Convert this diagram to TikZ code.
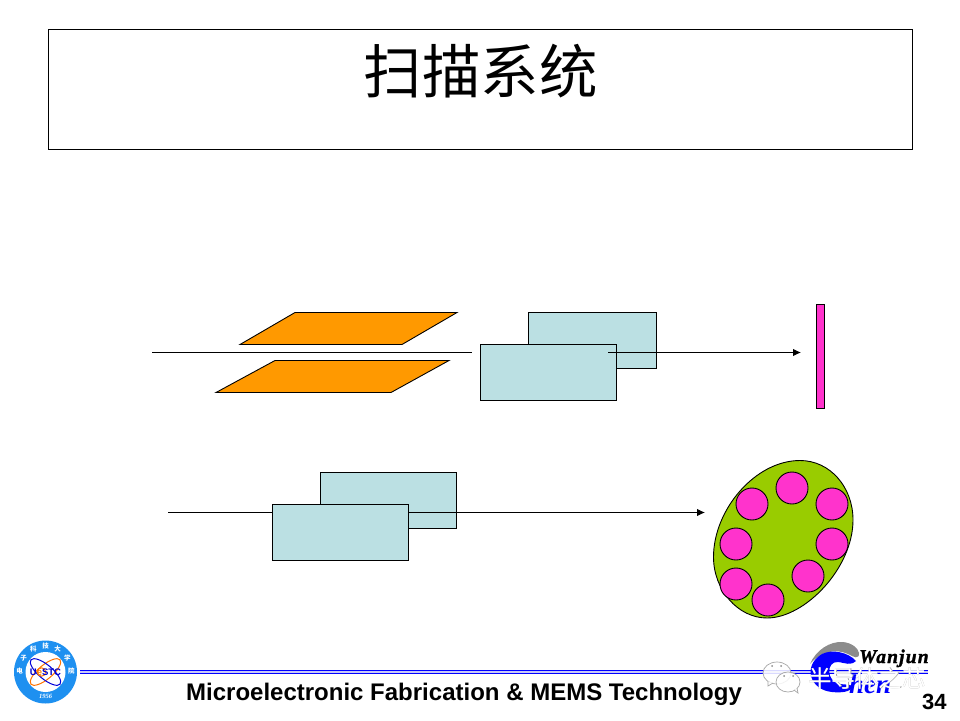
\documentclass[tikz,border=0pt]{standalone}
\usepackage{fontspec}
\setmainfont{Liberation Sans}
\newfontfamily\cjk{Noto Sans CJK SC}
\newfontfamily\wjfont{Liberation Serif}
\newfontfamily\wjspaced[LetterSpace=6,BoldItalicFeatures={FakeBold=1.5}]{Liberation Serif}
\usetikzlibrary{arrows.meta,shapes.geometric}
\definecolor{boxcyan}{HTML}{BBE0E3}
\definecolor{plateorange}{HTML}{FF9900}
\definecolor{waferpink}{HTML}{FF33CC}
\definecolor{wafergreen}{HTML}{99CC00}
\definecolor{logoblue}{HTML}{1E90F0}
\definecolor{rulelav}{HTML}{C8C8F8}
\definecolor{swoosh}{HTML}{8C8C8C}
\tikzset{
  plate/.style={draw=black,fill=plateorange,line width=.9pt,line join=miter},
  scanbox/.style={draw=black,fill=boxcyan,line width=.9pt,rectangle,inner sep=0pt,outer sep=0pt,minimum width=136pt,minimum height=56pt,anchor=north west},
  beam/.style={draw=black,line width=.9pt},
  beamarrow/.style={beam,-{Latex[length=8pt,width=7.5pt]}},
  die/.style={circle,draw=black,fill=waferpink,line width=.9pt,minimum size=32pt,inner sep=0pt,outer sep=0pt},
  ringchar/.style={text=white,font=\cjk\fontsize{6.5}{6.5}\selectfont\bfseries,inner sep=0pt},
  bubble/.style={draw=black!35,fill=white,fill opacity=.85,line width=.7pt},
}
\begin{document}
\begin{tikzpicture}[x=1pt,y=-1pt]
\useasboundingbox (0,0) rectangle (960,720);
\fill[white] (0,0) rectangle (960,720);
% title
\draw[black,line width=.9pt] (48.5,29.5) rectangle (912.5,149.5);
\node (title) at (480.5,71) [inner sep=0pt] {\cjk\fontsize{58.5}{58.5}\selectfont 扫描系统};
% deflection plates
\draw[plate] (240,344.5) -- (295,312.5) -- (457,312.5) -- (402,344.5) -- cycle;
\draw[plate] (216,392.5) -- (275,360.5) -- (449,360.5) -- (391,392.5) -- cycle;
\coordinate (b1s) at (152,352.5);
\coordinate (b1e) at (472,352.5);
\draw[beam] (b1s) -- (b1e);
% upper scan boxes
\node[scanbox,minimum width=128pt] (ub) at (528.5,312.5) {};
\node[scanbox] (uf) at (480.5,344.5) {};
\coordinate (b2s) at (608,352.5);
\coordinate (b2e) at (801,352.5);
\draw[beamarrow] (b2s) -- (b2e);
% target bar
\draw[draw=black,fill=waferpink,line width=.9pt] (816.5,304.5) rectangle (824.5,408.5);
% lower scan boxes
\node[scanbox] (lb) at (320.5,472.5) {};
\coordinate (b3s) at (168,512.5);
\coordinate (b3e) at (705,512.5);
\draw[beamarrow] (b3s) -- (b3e);
\node[scanbox] (lf) at (272.5,504.5) {};
% wafer
\draw[draw=black,fill=wafergreen,line width=.9pt] (800,460.5)
  .. controls (830,460.5) and (853,487) .. (853,520)
  .. controls (853,568) and (805,618) .. (767,618)
  .. controls (738,618) and (713.5,590) .. (713.5,557)
  .. controls (713.5,510) and (755,460.5) .. (800,460.5) -- cycle;
\foreach \n/\x/\y in {a/792/488,b/752/504,c/832/504,d/736/544,e/832/544,f/808/576,g/736/584,h/768/600}
  \node[die] (d\n) at (\x,\y) {};
% footer rule
\fill[rulelav] (80,670) rectangle (928,674);
\fill[blue] (80,669.6) rectangle (928,670.8);
\fill[blue] (80,673) rectangle (928,674.2);
% UESTC logo
\node[circle,fill=logoblue,minimum size=63pt,inner sep=0pt] (logo) at (45.5,672) {};
\node[circle,fill=white,minimum size=40pt,inner sep=0pt] (logoin) at (45.5,672) {};
\draw[orange!90!red,line width=1pt,rotate around={40:(45.5,672)}] (45.5,672) ellipse (19 and 7);
\draw[blue!85!black,line width=1pt,rotate around={-40:(45.5,672)}] (45.5,672) ellipse (19 and 7);
\draw[orange!90!red,line width=1pt] (41.5,672) circle (4.2);
\node[inner sep=0pt,text=blue!80!black,font=\bfseries\fontsize{9.5}{9.5}\selectfont] (uestc) at (45.5,672) {U{\color{orange}e}STC};
\foreach \a/\c in {178/电,147/子,118/科,90/技,62/大,33/学,2/院}
  \node[ringchar] at ({45.5+26*cos(\a)},{672-26*sin(\a)}) {\c};
\node[text=white,font=\wjfont\itshape\bfseries\fontsize{6.5}{6.5}\selectfont,inner sep=0pt] (yr) at (45.5,696) {1956};
% footer text
\node[anchor=base west,inner sep=0pt,font=\bfseries\fontsize{24}{24}\selectfont] (ftext) at (186,700) {Microelectronic Fabrication \& MEMS Technology};
\node[anchor=base west,inner sep=0pt,font=\bfseries\fontsize{22}{22}\selectfont] (pg) at (922,709) {34};
% Chen logo
\fill[swoosh] (810,664) .. controls (816,650) and (830,641) .. (843,642)
   .. controls (852,643) and (858,648) .. (859,653) .. controls (859,660) and (854,657) .. (848,654)
   .. controls (835,648) and (820,652) .. (810,664) -- cycle;
\fill[blue] (822,654) .. controls (832,649) and (848,652) .. (856,661)
   .. controls (850,666) and (846,663) .. (838,662) .. controls (826,661) and (826,682) .. (840,684)
   .. controls (848,685) and (850,684) .. (853,686) .. controls (851,692) and (842,693) .. (832,692)
   .. controls (810,690) and (802,666) .. (822,654) -- cycle;
\node[anchor=base west,inner sep=0pt,text=blue,font=\wjfont\itshape\bfseries\fontsize{27}{27}\selectfont] (hen) at (849,693.5) {hen};
\node[anchor=base west,inner sep=0pt,text=black,font=\wjspaced\itshape\bfseries\fontsize{19.5}{19.5}\selectfont] (wj) at (859,663) {Wanjun};
% watermark
\draw[bubble] (777,673) ellipse (14 and 11);
\draw[bubble] (768,681) -- (768,686) -- (773,683);
\draw[bubble] (788,682) ellipse (12 and 10);
\draw[bubble] (794,690) -- (798,693) -- (797,688);
\fill[black!45] (772,666) circle (1) (781,666) circle (1) (784,676) circle (1) (793,676) circle (1);
\node[anchor=west,inner sep=0pt,text=black!35,font=\cjk\fontsize{23.5}{23.5}\selectfont] (wms) at (808.5,678.5) {半导体之芯};
\node[anchor=west,inner sep=0pt,text=white,font=\cjk\fontsize{23.5}{23.5}\selectfont] (wm) at (808,678) {半导体之芯};
\end{tikzpicture}
\end{document}
